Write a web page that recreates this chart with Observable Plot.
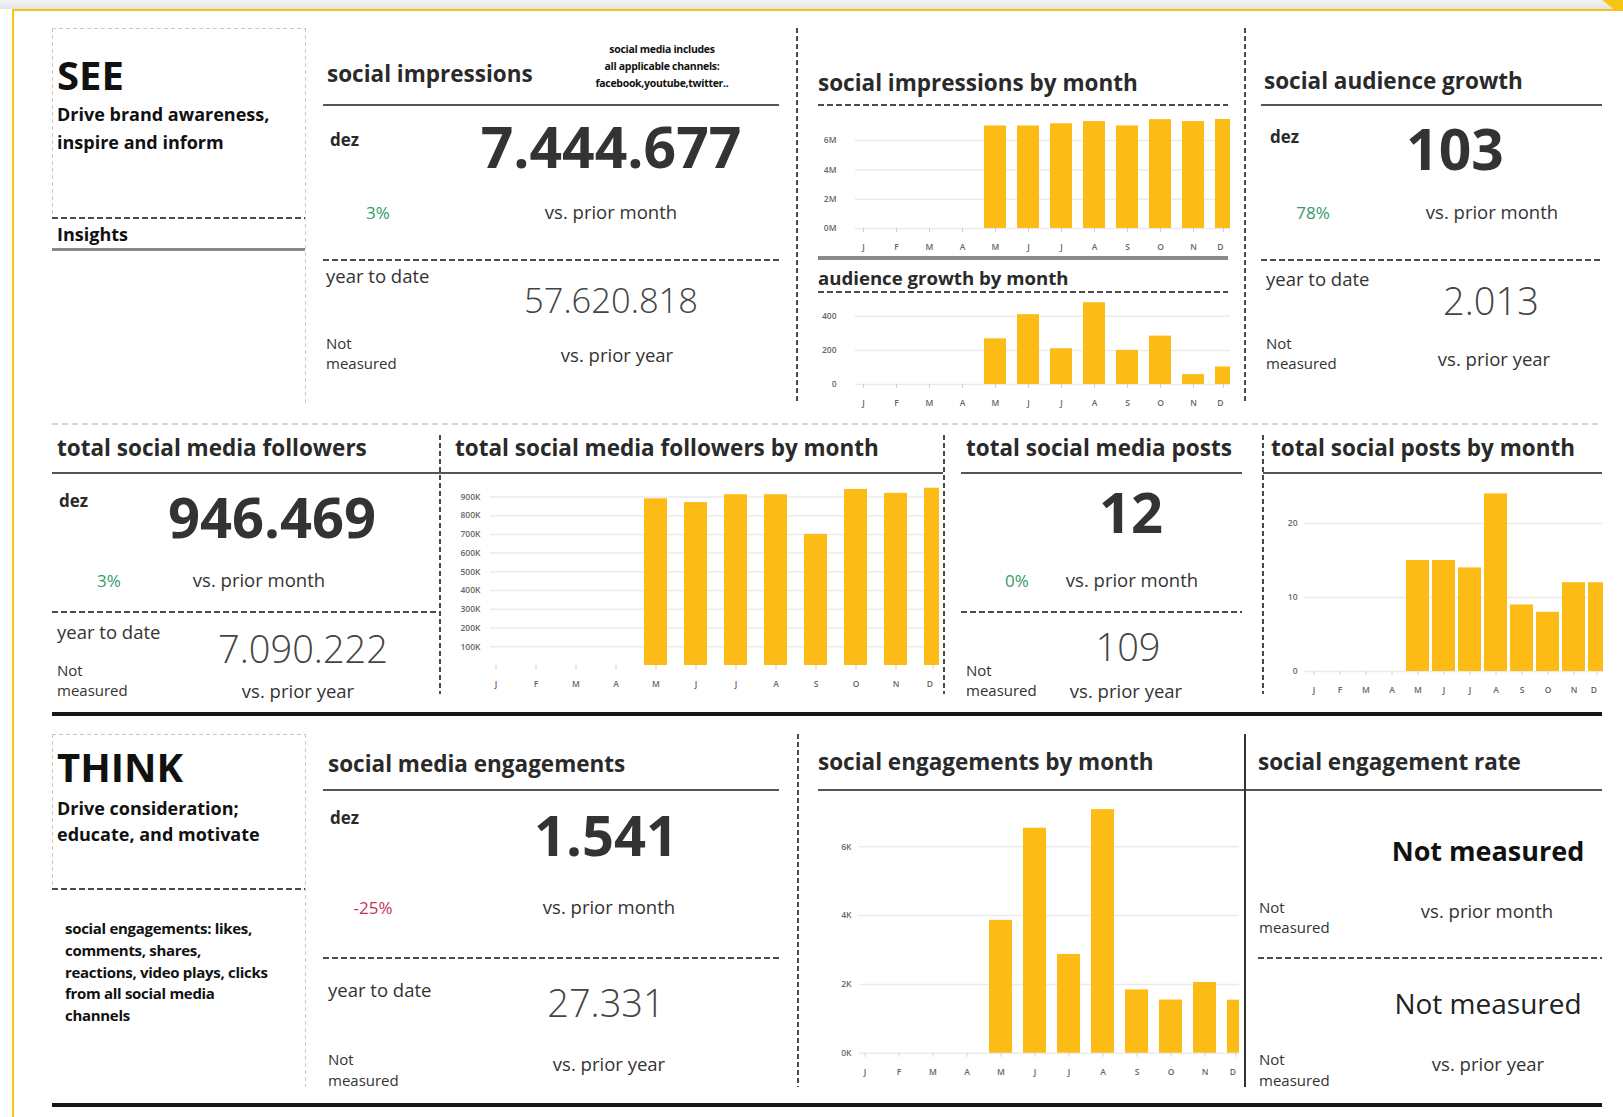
<!DOCTYPE html>
<html><head><meta charset="utf-8">
<script src="https://cdn.jsdelivr.net/npm/d3@7"></script>
<script src="https://cdn.jsdelivr.net/npm/@observablehq/plot@0.6"></script>
<style>
html,body{margin:0;padding:0;background:#fff;}
#page{position:relative;width:1623px;height:1117px;overflow:hidden;background:#fff;font-family:"Open Sans",sans-serif;color:#222;}
.t{position:absolute;white-space:nowrap;line-height:1;}
.ln{position:absolute;}
.chart{position:absolute;overflow:hidden;}
.chart svg{display:block;}
</style></head><body><div id="page"></div>
<script>
// ---------- data ----------
const months = ["Jan","Feb","Mar","Apr","May","Jun","Jul","Aug","Sep","Oct","Nov","Dec"];
const monthLetters = ["J","F","M","A","M","J","J","A","S","O","N","D"];
const impressionsByMonth = [null,null,null,null,7000000,7000000,7150000,7300000,7000000,7430000,7300000,7444677];
const audienceGrowthByMonth = [null,null,null,null,268,410,210,480,200,284,58,103];
const followersByMonth = [null,null,null,null,890000,870000,912000,912000,700000,940000,919000,946469];
const postsByMonth = [null,null,null,null,15,15,14,24,9,8,12,12];
const engagementsByMonth = [null,null,null,null,3860,6540,2870,7080,1840,1545,2055,1541];
const impressionTicks = [0,2000000,4000000,6000000];
const audienceTicks = [0,200,400];
const followerTicks = [100000,200000,300000,400000,500000,600000,700000,800000,900000];
const postTicks = [0,10,20];
const engagementTicks = [0,2000,4000,6000];
const kpiLabels = {month:"dez", mom:"vs. prior month", yoy:"vs. prior year", ytd:"year to date"};
const kpiImpressions = {value:"7.444.677", change:"3%", ytd:"57.620.818"};
const kpiAudience = {value:"103", change:"78%", ytd:"2.013"};
const kpiFollowers = {value:"946.469", change:"3%", ytd:"7.090.222"};
const kpiPosts = {value:"12", change:"0%", ytd:"109"};
const kpiEngagements = {value:"1.541", change:"-25%", ytd:"27.331"};
const engagementNote = ["social engagements: likes,","comments, shares,","reactions, video plays, clicks","from all social media","channels"];
const channelNote = ["social media includes","all applicable channels:","facebook,youtube,twitter.."];

const BAR = "#FDBB16", GREEN = "#34996a", RED = "#c7305a", YELLOW = "#F6C416";
const page = document.getElementById("page");

function txt(x, yc, s, size, opt = {}) {
  const d = document.createElement("div");
  d.className = "t";
  d.textContent = s;
  d.style.left = x + "px";
  d.style.top = (yc - size * (opt.o ?? 0.6)) + "px";
  d.style.fontSize = size + "px";
  d.style.fontWeight = opt.w || 400;
  d.style.color = opt.c || "#2a2a2a";
  if (opt.center) d.style.transform = "translateX(-50%)";
  if (opt.ls != null) d.style.letterSpacing = opt.ls + "px";
  page.appendChild(d);
}
function box(x, y, w, h, bg, extra) {
  const d = document.createElement("div");
  d.className = "ln";
  d.style.left = x + "px"; d.style.top = y + "px";
  d.style.width = w + "px"; d.style.height = h + "px";
  d.style.background = bg;
  if (extra) Object.assign(d.style, extra);
  page.appendChild(d);
}
function hl(x1, x2, y, th, color, dash) {
  const bg = dash ? `repeating-linear-gradient(to right, ${color} 0 ${dash[0]}px, transparent ${dash[0]}px ${dash[0]+dash[1]}px)` : color;
  box(x1, y - th/2, x2 - x1, th, bg);
}
function vl(x, y1, y2, th, color, dash) {
  const bg = dash ? `repeating-linear-gradient(to bottom, ${color} 0 ${dash[0]}px, transparent ${dash[0]}px ${dash[0]+dash[1]}px)` : color;
  box(x - th/2, y1, th, y2 - y1, bg);
}

// ---------- frame ----------
box(0, 0, 1623, 9, "linear-gradient(#f3f3f3,#e3e3e3)");
box(12, 9, 1611, 2, YELLOW);
box(12, 9, 2, 1108, YELLOW);
box(1600, 0, 23, 11, YELLOW, {clipPath: "polygon(2px 0, 23px 0, 23px 11px, 16px 11px)"});

// ---------- lines ----------
const LIGHT = "#c9c9c9", DARK = "#4a4a4a", SOLID = "#555";
const ld = [4,3], dd = [6,3];
hl(52, 305, 28, 1, LIGHT, ld); vl(52, 28, 218, 1, LIGHT, ld); vl(305, 28, 404, 1, LIGHT, ld);
hl(52, 305, 218, 2, DARK, dd);
hl(52, 305, 249, 3, "#888");
hl(323, 779, 105, 2.5, SOLID);
hl(323, 779, 260, 2, DARK, dd);
vl(797, 28, 404, 2, DARK, [5,3]);
hl(818, 1228, 105, 2, DARK, dd);
hl(818, 1228, 258, 4, "#8a8a8a");
hl(818, 1228, 292, 2, DARK, dd);
vl(1245, 28, 404, 2, DARK, [5,3]);
hl(1261, 1602, 105, 2.5, SOLID);
hl(1261, 1602, 260, 2, DARK, dd);
hl(52, 1602, 424, 2, "#d6d6d6", [6,4]);
hl(52, 440, 473, 2.5, SOLID);
hl(440, 943, 473, 2.5, SOLID);
hl(961, 1242, 473, 2.5, SOLID);
hl(1263, 1602, 473, 2.5, SOLID);
hl(52, 440, 612, 2, DARK, dd);
hl(961, 1242, 612, 2, DARK, dd);
vl(440, 435, 694, 2, DARK, [5,3]);
vl(944, 435, 694, 2, DARK, [5,3]);
vl(1263, 435, 694, 2, DARK, [5,3]);
hl(52, 1602, 714, 4, "#161616");
hl(52, 305, 734, 1, LIGHT, ld); vl(52, 734, 889, 1, LIGHT, ld); vl(305, 734, 1087, 1, LIGHT, ld);
hl(52, 305, 889, 2, DARK, dd);
hl(323, 779, 790, 2.5, SOLID);
hl(323, 779, 958, 2, DARK, dd);
vl(798, 734, 1087, 2, DARK, [5,3]);
hl(818, 1602, 790, 2.5, SOLID);
vl(1245, 734, 1087, 1.5, "#333");
hl(1258, 1602, 958, 2, DARK, dd);
hl(52, 1602, 1105, 4, "#161616");

// ---------- texts ----------
const T22 = 22.5, TW = 700, L17 = 18.5, S15 = 15;
const DK = "#111", TD = 2.5;
// SEE
txt(57, 76, "SEE", 40, {w:700, o:0.53, c:DK});
txt(57, 116, "Drive brand awareness,", 18, {w:700, c:DK});
txt(57, 143.5, "inspire and inform", 18, {w:700, c:DK});
txt(57, 236, "Insights", 18, {w:700, c:DK});
// social impressions
txt(327, 73.5 + TD, "social impressions", T22, {w:TW});
channelNote.forEach((s, i) => txt(662, 50.6 + i*16.6, s, 10.5, {w:700, center:true, ls:-0.3, c:DK}));
txt(330, 141, kpiLabels.month, 17, {w:700});
txt(611, 148, kpiImpressions.value, 57, {w:700, c:"#333", center:true, o:0.53});
txt(378, 214.5, kpiImpressions.change, 17, {c:GREEN, center:true});
txt(611, 214.5, kpiLabels.mom, L17, {center:true, c:"#333"});
txt(326, 278, kpiLabels.ytd, L17, {c:"#333"});
txt(611, 301, kpiImpressions.ytd, 34.5, {w:300, c:"#444", center:true, o:0.53});
txt(326, 345, "Not", S15, {c:"#333"}); txt(326, 365, "measured", S15, {c:"#333"});
txt(617, 357, kpiLabels.yoy, L17, {center:true, c:"#333"});
txt(818, 83 + TD, "social impressions by month", T22, {w:TW});
txt(818, 279 + 1.5, "audience growth by month", 18.6, {w:TW});
// audience card
txt(1264, 81 + TD, "social audience growth", T22, {w:TW});
txt(1270, 138, kpiLabels.month, 17, {w:700});
txt(1455, 150, kpiAudience.value, 57, {w:700, c:"#333", center:true, o:0.53});
txt(1313, 214.5, kpiAudience.change, 17, {c:GREEN, center:true});
txt(1492, 214.5, kpiLabels.mom, L17, {center:true, c:"#333"});
txt(1266, 281, kpiLabels.ytd, L17, {c:"#333"});
txt(1491, 301, kpiAudience.ytd, 38, {w:300, c:"#444", center:true, o:0.53});
txt(1266, 345, "Not", S15, {c:"#333"}); txt(1266, 365, "measured", S15, {c:"#333"});
txt(1494, 361, kpiLabels.yoy, L17, {center:true, c:"#333"});
// followers
txt(57, 448 + TD, "total social media followers", T22, {w:TW});
txt(59, 502, kpiLabels.month, 17, {w:700});
txt(272, 518, kpiFollowers.value, 56, {w:700, c:"#333", center:true, o:0.53});
txt(109, 582.5, kpiFollowers.change, 17, {c:GREEN, center:true});
txt(259, 582.5, kpiLabels.mom, L17, {center:true, c:"#333"});
txt(57, 634, kpiLabels.ytd, L17, {c:"#333"});
txt(303, 649, kpiFollowers.ytd, 38, {w:300, c:"#444", center:true, o:0.53});
txt(57, 672, "Not", S15, {c:"#333"}); txt(57, 692, "measured", S15, {c:"#333"});
txt(298, 693, kpiLabels.yoy, L17, {center:true, c:"#333"});
txt(455, 448 + TD, "total social media followers by month", T22, {w:TW});
// posts
txt(966, 448 + TD, "total social media posts", T22, {w:TW});
txt(1131, 513, kpiPosts.value, 56, {w:700, c:"#333", center:true, o:0.53});
txt(1017, 582.5, kpiPosts.change, 17, {c:GREEN, center:true});
txt(1132, 582.5, kpiLabels.mom, L17, {center:true, c:"#333"});
txt(1128, 647, kpiPosts.ytd, 38, {w:300, c:"#444", center:true, o:0.53});
txt(966, 672, "Not", S15, {c:"#333"}); txt(966, 692, "measured", S15, {c:"#333"});
txt(1126, 693, kpiLabels.yoy, L17, {center:true, c:"#333"});
txt(1271, 448 + TD, "total social posts by month", T22, {w:TW});
// THINK
txt(57, 768.5, "THINK", 40, {w:700, o:0.53, c:DK});
txt(57, 810, "Drive consideration;", 18, {w:700, c:DK});
txt(57, 836, "educate, and motivate", 18, {w:700, c:DK});
engagementNote.forEach((s, i) => txt(65, 930 + i*21.8, s, 15, {w:700, c:DK, ls:-0.3}));
// engagements
txt(328, 764 + TD, "social media engagements", T22, {w:TW});
txt(330, 819, kpiLabels.month, 17, {w:700});
txt(606, 836, kpiEngagements.value, 56, {w:700, c:"#333", center:true, o:0.53});
txt(373, 909.5, kpiEngagements.change, 17, {c:RED, center:true});
txt(609, 909.5, kpiLabels.mom, L17, {center:true, c:"#333"});
txt(328, 992, kpiLabels.ytd, L17, {c:"#333"});
txt(606, 1003, kpiEngagements.ytd, 38, {w:300, c:"#444", center:true, o:0.53});
txt(328, 1061, "Not", S15, {c:"#333"}); txt(328, 1082, "measured", S15, {c:"#333"});
txt(609, 1066, kpiLabels.yoy, L17, {center:true, c:"#333"});
txt(818, 762 + TD, "social engagements by month", T22, {w:TW});
// engagement rate
txt(1258, 762 + TD, "social engagement rate", T22, {w:TW});
txt(1488, 852, "Not measured", 27, {w:700, center:true, c:DK, o:0.55});
txt(1259, 909, "Not", S15, {c:"#333"}); txt(1259, 929, "measured", S15, {c:"#333"});
txt(1487, 913, kpiLabels.mom, L17, {center:true, c:"#333"});
txt(1488, 1004, "Not measured", 28, {w:400, center:true, c:"#222", o:0.55});
txt(1259, 1061, "Not", S15, {c:"#333"}); txt(1259, 1082, "measured", S15, {c:"#333"});
txt(1488, 1066, kpiLabels.yoy, L17, {center:true, c:"#333"});

// ---------- charts ----------
function barChart(values, cfg) {
  const {L, T, R, B, FL, Jc, step, pad, base, k, ymax, ticks, fmt, yPad, xPad} = cfg;
  const W = R - L, H = B - T;
  const data = months.map((m, i) => ({m, v: values[i]}));
  const chart = Plot.plot({
    width: W, height: H,
    marginLeft: FL - L, marginRight: 0, marginTop: 0, marginBottom: B - base,
    style: {background: "none", fontFamily: "Open Sans", fontSize: "8.5px", fontWeight: 600, color: "#666", overflow: "hidden"},
    x: {type: "band", domain: months, range: [Jc - step/2 - L, Jc + 11.5*step - L], paddingInner: pad, paddingOuter: pad/2, align: 0.5, label: null},
    y: {domain: [0, ymax], range: [base - T, base - T - ymax*k], label: null},
    marks: [
      Plot.gridY(ticks, {stroke: "#ebebeb", strokeOpacity: 1, strokeWidth: 1.5}),
      Plot.barY(data, {x: "m", y: "v", fill: BAR}),
      Plot.axisY(ticks, {tickSize: 0, tickPadding: yPad, tickFormat: fmt, fill: "#666", label: null}),
      Plot.axisX(months.slice(0, 11), {tickSize: 4, stroke: "#d0d0d0", tickPadding: xPad, tickFormat: d => monthLetters[months.indexOf(d)], fill: "#666", label: null}),
      Plot.axisX(["Dec"], {tickSize: 4, stroke: "#d0d0d0", tickPadding: xPad, tickFormat: () => monthLetters[11], textAnchor: "end", dx: -3, fill: "#666", label: null})
    ]
  });
  const wrap = document.createElement("div");
  wrap.className = "chart";
  wrap.style.left = L + "px"; wrap.style.top = T + "px";
  wrap.style.width = W + "px"; wrap.style.height = H + "px";
  wrap.appendChild(chart);
  page.appendChild(wrap);
}
const fmtM = d => (d / 1e6) + "M";
const fmtK = d => (d / 1e3) + "K";
barChart(impressionsByMonth, {L:800, T:108, R:1230, B:260, FL:855, Jc:859, step:33.75, pad:0.32, base:228, k:14.65e-6, ymax:7.6e6, ticks:impressionTicks, fmt:fmtM, yPad:19, xPad:11});
barChart(audienceGrowthByMonth, {L:800, T:294, R:1230, B:415, FL:855, Jc:859, step:33.75, pad:0.32, base:384, k:0.1704, ymax:500, ticks:audienceTicks, fmt:d => String(d), yPad:19, xPad:11.5});
barChart(followersByMonth, {L:445, T:476, R:939, B:700, FL:490, Jc:493, step:40.45, pad:0.43, base:665, k:0.0001873, ymax:1e6, ticks:followerTicks, fmt:fmtK, yPad:10, xPad:11});
barChart(postsByMonth, {L:1265, T:476, R:1603, B:705, FL:1304, Jc:1311.4, step:26.4, pad:0.13, base:671, k:7.4, ymax:25, ticks:postTicks, fmt:d => String(d), yPad:7, xPad:11});
barChart(engagementsByMonth, {L:800, T:793, R:1239, B:1090, FL:859, Jc:863.2, step:34.2, pad:0.33, base:1052.7, k:0.0344, ymax:7500, ticks:engagementTicks, fmt:fmtK, yPad:8, xPad:12});
</script></body></html>
